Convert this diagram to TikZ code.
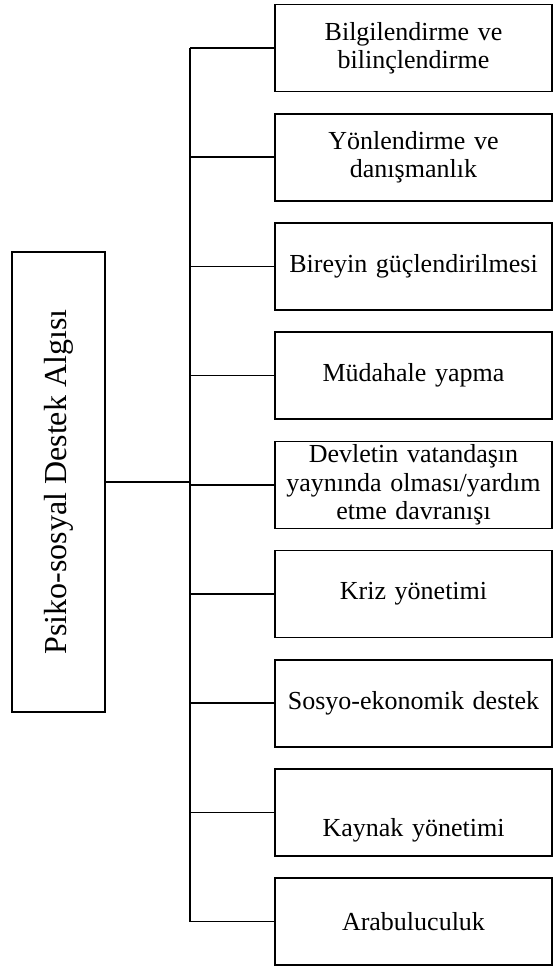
\documentclass[tikz,border=0pt]{standalone}
\usepackage{fontspec}
\setmainfont{Liberation Serif}
\usetikzlibrary{positioning}

\begin{document}
\begin{tikzpicture}[
        node distance=54.6pt,
        block/.style={rectangle, draw, text width=136pt, align=center, minimum width=138.5pt, minimum height=43.5pt, inner sep=0pt, line width=0.8pt, font=\fontsize{13}{14.2}\selectfont},
        main/.style={rectangle, draw, rotate=90, minimum width=230pt, minimum height=46.5pt, line width=0.8pt, font=\fontsize{16}{18}\selectfont},
        line/.style={draw, line width=0.8pt}
    ]
        \useasboundingbox (0,0) rectangle (276.5pt,-483pt);

        \node [main] (algi) at (29.25pt,-241pt) {Psiko-sosyal Destek Algısı};

        \node [block] (bilgi) at (206.75pt,-24pt) {Bilgilendirme ve\\bilinçlendirme};
        \node [block, below of=bilgi] (yonlendirme) {Yönlendirme ve\\danışmanlık};
        \node [block, below of=yonlendirme] (birey) {Bireyin güçlendirilmesi};
        \node [block, below of=birey] (mudahale) {Müdahale yapma};
        \node [block, below of=mudahale] (devlet) {Devletin vatandaşın\\yaynında olması/yardım\\etme davranışı};
        \node [block, below of=devlet] (kriz) {Kriz yönetimi};
        \node [block, below of=kriz] (sosyo) {Sosyo-ekonomik destek};
        \node [block, below of=sosyo] (kaynak) {\mbox{}\\[13pt]Kaynak yönetimi};
        \node [block, below of=kaynak] (arabulucu) {Arabuluculuk};

        \coordinate (trunk) at (95pt,0);

        \path [line] (algi.south) -- (algi.south -| trunk);
        \path [line] (trunk |- bilgi) -- (trunk |- arabulucu);
        \path [line] (trunk |- bilgi) -- (bilgi.west);
        \path [line] (trunk |- yonlendirme) -- (yonlendirme.west);
        \path [line] (trunk |- birey) -- (birey.west);
        \path [line] (trunk |- mudahale) -- (mudahale.west);
        \path [line] (trunk |- devlet) -- (devlet.west);
        \path [line] (trunk |- kriz) -- (kriz.west);
        \path [line] (trunk |- sosyo) -- (sosyo.west);
        \path [line] (trunk |- kaynak) -- (kaynak.west);
        \path [line] (trunk |- arabulucu) -- (arabulucu.west);
    \end{tikzpicture}
\end{document}
